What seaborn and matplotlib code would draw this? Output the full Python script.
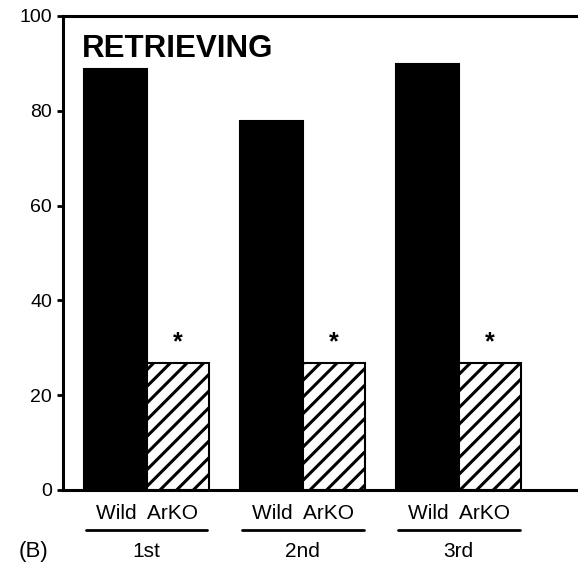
import pandas as pd
import matplotlib.pyplot as plt
import matplotlib.transforms as mtransforms
import seaborn as sns

# values (% retrieving)
trials = ['1st', '2nd', '3rd']
wild_values = [88.9, 77.9, 89.8]
arko_values = [26.8, 26.8, 26.8]
genotypes = ['Wild', 'ArKO']
y_ticks = [0, 20, 40, 60, 80, 100]

sns.set_style('white')
plt.rcParams['font.family'] = ['Liberation Sans', 'DejaVu Sans']
plt.rcParams['text.color'] = 'black'
plt.rcParams['ytick.color'] = 'black'
plt.rcParams['ytick.labelcolor'] = 'black'
plt.rcParams['hatch.linewidth'] = 2.2
plt.rcParams['hatch.color'] = 'black'

df = pd.DataFrame({
    'trial': trials * 2,
    'genotype': ['Wild'] * 3 + ['ArKO'] * 3,
    'value': wild_values + arko_values,
})

fig = plt.figure(figsize=(5.78, 5.70), dpi=100)
ax = fig.add_axes([63 / 578, 80 / 570, 530 / 578, 474 / 570])

sns.barplot(data=df, x='trial', y='value', hue='genotype', hue_order=genotypes,
            order=trials, palette=['black', 'white'], edgecolor='black',
            linewidth=1.5, width=0.8, saturation=1, legend=False, ax=ax)

# hatch the ArKO bars and add asterisks
for bar in ax.patches:
    if bar.get_facecolor()[0] > 0.5:
        bar.set_hatch('//')
        ax.text(bar.get_x() + bar.get_width() / 2, bar.get_height() + 1.8, '*',
                ha='center', va='bottom', fontsize=18, fontweight='bold')

ax.set_xlim(-0.535, 2.86)
ax.set_ylim(0, 100)
ax.set_yticks(y_ticks)
ax.set_xticks([])
ax.set_xlabel('')
ax.set_ylabel('')
ax.tick_params(axis='y', direction='out', length=4, width=2, labelsize=14, pad=4, left=True)

for side in ['left', 'top', 'bottom']:
    ax.spines[side].set_visible(True)
    ax.spines[side].set_linewidth(2.2)
    ax.spines[side].set_color('black')
ax.spines['right'].set_visible(False)

ax.text(0.036, 0.93, 'RETRIEVING', transform=ax.transAxes, fontsize=22.5,
        fontweight='bold', ha='left', va='center')

# group labels under the axis
trans = mtransforms.blended_transform_factory(ax.transData, fig.transFigure)
for i, t in enumerate(trials):
    ax.text(i, 0.099, 'Wild  ArKO', transform=trans, ha='center', va='center',
            fontsize=15)
    ax.plot([i - 0.39, i + 0.39], [0.070, 0.070], transform=trans, color='black',
            linewidth=2, clip_on=False)
    ax.text(i, 0.032, t, transform=trans, ha='center', va='center', fontsize=15)

fig.text(33 / 578, 0.032, '(B)', ha='center', va='center', fontsize=16)

fig.savefig('out.png', dpi=100)
